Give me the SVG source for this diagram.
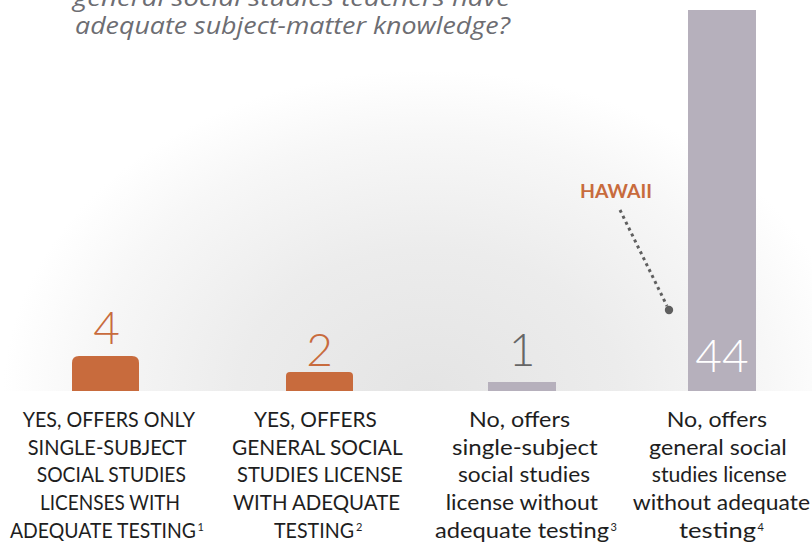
<svg xmlns="http://www.w3.org/2000/svg" width="812" height="544" viewBox="0 0 812 544">
  <defs>
    <radialGradient id="glow" gradientUnits="userSpaceOnUse" cx="0" cy="0" r="1" gradientTransform="translate(428 395) scale(425 325)">
      <stop offset="0" stop-color="#e4e4e4"/>
      <stop offset="0.45" stop-color="#ececec"/>
      <stop offset="0.8" stop-color="#f7f7f7"/>
      <stop offset="1" stop-color="#ffffff"/>
    </radialGradient>
    <style>
      .title { font-family: "Open Sans", "Noto Sans", "DejaVu Sans", sans-serif; font-style: italic; font-size: 23.5px; fill: #6d6d72; }
      .lbl { font-family: "Lato", "Open Sans", "DejaVu Sans", sans-serif; font-size: 22px; fill: #1e1e1e; }
      .sup { font-family: "Lato", "Open Sans", "DejaVu Sans", sans-serif; font-size: 11px; fill: #1e1e1e; }
      .num { font-family: "Lato", "Open Sans", sans-serif; font-weight: 300; font-size: 46px; text-anchor: middle; }
      .orange { fill: #c86b3d; }
      .gray { fill: #b6b0bc; }
      .hawaii { font-family: "Lato", "Open Sans", sans-serif; font-weight: 700; font-size: 18.5px; fill: #c86b3d; }
      .lead { stroke: #5f5f5f; stroke-width: 3; stroke-dasharray: 3 3.6; fill: none; }
    </style>
  </defs>
  <rect x="0" y="0" width="812" height="544" fill="#ffffff"/>
  <rect x="0" y="0" width="812" height="391" fill="url(#glow)"/>

  <g id="title">
    <text class="title" x="73" y="6" textLength="437" lengthAdjust="spacingAndGlyphs">general social studies teachers have</text>
    <text class="title" x="75" y="34" textLength="435" lengthAdjust="spacingAndGlyphs">adequate subject-matter knowledge?</text>
  </g>

  <g id="bar-yes-single">
    <path class="orange" d="M72 391 V363 Q72 356 79 356 H132 Q139 356 139 363 V391 Z"/>
    <text class="num orange" x="106.5" y="344">4</text>
    <text class="lbl" x="22.7" y="427" textLength="172.3" lengthAdjust="spacingAndGlyphs">YES, OFFERS ONLY</text>
    <text class="lbl" x="27.7" y="454.5" textLength="159" lengthAdjust="spacingAndGlyphs">SINGLE-SUBJECT</text>
    <text class="lbl" x="36.7" y="482" textLength="149.3" lengthAdjust="spacingAndGlyphs">SOCIAL STUDIES</text>
    <text class="lbl" x="40" y="509.5" textLength="140" lengthAdjust="spacingAndGlyphs">LICENSES WITH</text>
    <text class="lbl" x="10" y="537.5" textLength="186" lengthAdjust="spacingAndGlyphs">ADEQUATE TESTING</text>
    <text class="sup" x="197.5" y="531">1</text>
  </g>

  <g id="bar-yes-general">
    <path class="orange" d="M286 391 V376 Q286 372 290 372 H349 Q353 372 353 376 V391 Z"/>
    <text class="num orange" x="319.5" y="366">2</text>
    <text class="lbl" x="254" y="427" textLength="122.7" lengthAdjust="spacingAndGlyphs">YES, OFFERS</text>
    <text class="lbl" x="232" y="454.5" textLength="170.7" lengthAdjust="spacingAndGlyphs">GENERAL SOCIAL</text>
    <text class="lbl" x="237" y="482" textLength="165.7" lengthAdjust="spacingAndGlyphs">STUDIES LICENSE</text>
    <text class="lbl" x="233" y="509.5" textLength="167" lengthAdjust="spacingAndGlyphs">WITH ADEQUATE</text>
    <text class="lbl" x="274" y="537.5" textLength="80" lengthAdjust="spacingAndGlyphs">TESTING</text>
    <text class="sup" x="356" y="531">2</text>
  </g>

  <g id="bar-no-single">
    <rect class="gray" x="488" y="382" width="68" height="9"/>
    <text class="num" x="522" y="366" fill="#666666">1</text>
    <text class="lbl" x="469" y="427" textLength="101" lengthAdjust="spacingAndGlyphs">No, offers</text>
    <text class="lbl" x="452" y="454.5" textLength="145.7" lengthAdjust="spacingAndGlyphs">single-subject</text>
    <text class="lbl" x="458" y="482" textLength="132" lengthAdjust="spacingAndGlyphs">social studies</text>
    <text class="lbl" x="445.7" y="509.5" textLength="152.3" lengthAdjust="spacingAndGlyphs">license without</text>
    <text class="lbl" x="435" y="537.5" textLength="174" lengthAdjust="spacingAndGlyphs">adequate testing</text>
    <text class="sup" x="610.5" y="531">3</text>
  </g>

  <g id="bar-no-general">
    <rect class="gray" x="688" y="10" width="68" height="381"/>
    <text class="num" x="722" y="372" fill="#ffffff">44</text>
    <text class="lbl" x="666.7" y="427" textLength="100.3" lengthAdjust="spacingAndGlyphs">No, offers</text>
    <text class="lbl" x="649" y="454.5" textLength="137.7" lengthAdjust="spacingAndGlyphs">general social</text>
    <text class="lbl" x="651.7" y="482" textLength="135" lengthAdjust="spacingAndGlyphs">studies license</text>
    <text class="lbl" x="632.7" y="509.5" textLength="177.3" lengthAdjust="spacingAndGlyphs">without adequate</text>
    <text class="lbl" x="679" y="537.5" textLength="77" lengthAdjust="spacingAndGlyphs">testing</text>
    <text class="sup" x="757.5" y="531">4</text>
  </g>

  <g id="hawaii">
    <text class="hawaii" x="580" y="198" textLength="72" lengthAdjust="spacingAndGlyphs">HAWAII</text>
  </g>

  <g id="connectors">
    <line class="lead" x1="620" y1="210" x2="667" y2="306"/>
    <circle cx="669" cy="310" r="4.2" fill="#5f5f5f"/>
  </g>
</svg>
